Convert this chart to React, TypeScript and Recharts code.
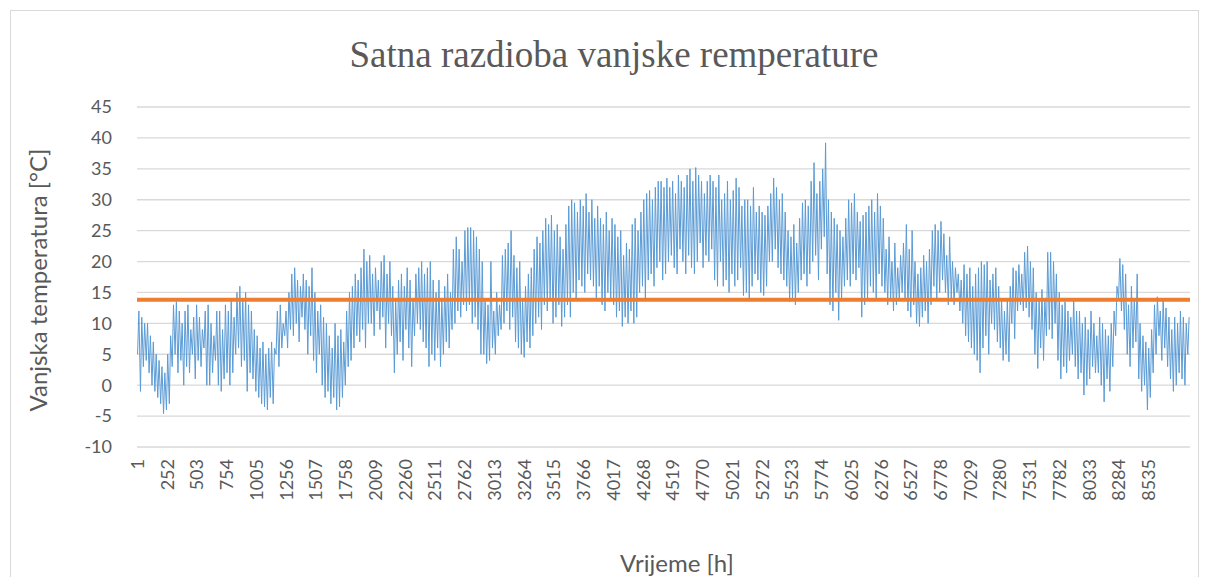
import React from "react";
import { LineChart, Line, XAxis, YAxis, CartesianGrid, ReferenceLine } from "recharts";

// daily peaks, one value per day (365 days)
const dailyHigh = [
  12, 11, 10, 10, 8, 7, 5, 4, 3, 2, 5, 8, 13, 13.5, 12, 10, 12, 13, 9, 11, 13, 11, 9, 12, 13, 10, 8, 12, 12, 9, 13, 12,
  14, 11, 15, 16, 14, 15, 13, 12, 9, 8, 6, 7, 5, 6, 7, 6, 12, 13, 10, 12, 15, 18, 19, 17, 16, 18, 17, 16, 19, 15, 12, 13, 11, 10,
  8, 6, 10, 8, 9, 7, 12, 15, 16, 18, 17, 19, 22, 20, 21, 18, 19, 17, 20, 21, 18, 20, 16, 14, 17, 18, 16, 19, 17, 14, 18, 19, 20, 18,
  19, 20, 17, 15, 17, 14, 16, 18, 15, 22, 24, 22, 20, 25, 25.5, 25.5, 25, 24, 22, 20, 14, 13, 20, 12, 15, 13, 21, 22, 23, 25, 21, 19, 20,
  14, 16, 18, 19, 22, 24, 23, 25, 27, 26, 27.5, 25, 26, 24, 22, 26, 29, 30, 29.5, 28, 30, 29, 31, 28, 30, 27, 29, 27, 26, 28, 25, 27, 26,
  24, 25, 21, 23, 22, 26, 27, 25, 28, 30, 31, 31.5, 30, 32, 33, 33, 32, 33.5, 32, 33, 31, 34, 33, 32, 34, 35, 33, 35.2, 34, 33, 31, 33, 34, 33,
  32, 34, 30, 31, 33, 30, 31.5, 33.5, 32, 29, 30, 30, 29, 32, 28, 29, 28, 27.5, 29, 31, 33.5, 32, 30, 31, 28, 25, 24, 26, 23, 27, 29.5, 30, 29,
  33, 36, 31, 33, 35, 39.2, 30, 28, 27, 26, 25, 24, 27, 30, 29.5, 31, 28, 26.5, 27.5, 28, 29, 30, 28, 31, 29, 27, 22, 24, 20, 23, 19, 21, 23,
  26, 22, 25, 20, 18, 19, 21, 20, 22, 25, 26, 25, 26.5, 24.5, 21, 24, 20, 19, 18, 17, 19.5, 18, 19, 16, 18, 19, 20, 19.5, 20, 17, 18, 19, 16, 14,
  12, 14, 16, 19, 18.5, 19.5, 18, 21.5, 22.5, 20, 19, 15, 14, 15.5, 14, 21.5, 21.5, 20, 18, 15, 13, 13.5, 12, 11, 14, 12, 12, 10, 11, 9, 12, 10, 8,
  11, 10, 9, 8, 10, 12, 16, 20.5, 19.5, 18, 13, 16, 14, 18, 10, 8, 7, 6, 9, 13, 14.3, 12, 14, 12.5, 11, 9, 11, 10, 12, 11, 10, 11,
];

// daily lows
const dailyLow = [
  5, -1, 3, 4, 2, 0, -1, -2, -3, -4.6, -4, -3, 3, 5, 2, 4, 0, 3, 2, 5, 1, 4, 3, 6, 0, 0, 2, 4, 0, -1, 1, 2,
  0, 2, 5, 6, 3, 4, -1, 2, 1, -1, -2, -3, -3.5, -4, -2, -3, 5, 3, 6, 8, 6, 9, 8, 10, 7, 11, 9, 5, 8, 4, 2, 5, 0, -2,
  -1, -3, -2, -4, -3.5, -2, 0, 3, 4, 6, 8, 7, 9, 6, 10, 10, 8, 12, 9, 11, 6, 10, 8, 2, 5, 7, 4, 9, 6, 3, 8, 10, 9, 7,
  6, 3, 5, 4, 6, 3, 5, 7, 6, 9, 10, 12, 11, 13, 12, 13, 10, 11, 9, 5, 5, 3.5, 4, 6, 5, 8, 9, 10, 12, 9, 11, 7, 6,
  5, 4.5, 7, 6, 8, 10, 11, 9, 13, 12, 14, 10, 11, 13, 9.5, 11, 13, 11, 15, 14, 17, 16, 15, 18, 17, 16, 14, 16, 13, 12, 15, 14, 13,
  11, 12, 9.5, 11, 10, 12, 10, 11, 15, 16, 14, 17, 18, 16, 19, 20, 17, 18, 20, 21, 19, 18, 22, 20, 18, 21, 19, 18, 20, 23, 19, 21, 20, 22,
  17, 16, 20, 16, 17, 15, 18, 16, 17, 19, 14.5, 15, 14, 16, 18, 17, 15, 14.5, 16, 20, 20, 22, 19, 18, 17, 16, 13.5, 14, 13, 15, 17, 18, 16,
  18, 20, 21, 17, 22, 24, 18, 13, 12, 15, 10.5, 14, 16, 17, 16, 18, 17, 19, 11, 13, 14, 16, 15, 14, 18, 16, 15, 13, 14, 12, 13, 14, 15,
  14, 12, 11, 13, 10, 9.5, 11, 12, 10, 13, 16, 14, 15, 17, 15, 13, 14, 13, 15, 12, 10, 8, 7, 6, 5, 4, 2, 6, 8, 5, 10, 9, 7, 6,
  4, 5, 3.8, 10, 7.5, 12, 13, 12, 12.5, 11, 9, 5, 2.7, 6, 4, 8, 9, 7.5, 10, 4, 1, 3, 2, 4, 5, 3, 1, 2, -1.6, 0, 1, 3, 2,
  2, 0, -2.7, 1, -1, 3, 8, 14, 12, 9, 5, 3, 6, 7, 1, -1, 0, -4, -2, 2, 5, 8, 4, 6, 3, 1, -1, 0, 2, 1, 0, 5,
];

const meanTemp = 13.8;
// number of hourly rows on the category axis (label spacing implies a bit more than 8760)
const rowCount = 8888;

const xTicks = [
  1, 252, 503, 754, 1005, 1256, 1507, 1758, 2009, 2260, 2511, 2762, 3013, 3264, 3515, 3766, 4017, 4268,
  4519, 4770, 5021, 5272, 5523, 5774, 6025, 6276, 6527, 6778, 7029, 7280, 7531, 7782, 8033, 8284, 8535,
];
const yTicks = [-10, -5, 0, 5, 10, 15, 20, 25, 30, 35, 40, 45];

const dayLen = rowCount / dailyLow.length;
const data = dailyLow.flatMap((low, d) => [
  { h: 1 + (d + 0.2) * dayLen, t: low },
  { h: 1 + (d + 0.65) * dayLen, t: dailyHigh[d] },
]);

const txt = "#595959";
const sans = "Lato, 'Open Sans', sans-serif";

const RotTick = (props: any) => {
  const { x, y, payload } = props;
  return (
    <text
      x={x}
      y={y}
      transform={`rotate(-90, ${x}, ${y})`}
      textAnchor="end"
      dominantBaseline="central"
      fill={txt}
      fontSize={18}
      fontFamily={sans}
    >
      {payload.value}
    </text>
  );
};

export default function App() {
  return (
    <div style={{ position: "absolute", left: 0, top: 0, width: 1208, height: 577, overflow: "hidden", background: "#fff" }}>
      <div style={{ position: "absolute", left: 10, top: 10, width: 1187, height: 620, border: "1px solid #D9D9D9" }} />
      <div style={{ position: "absolute", left: 0, top: 33, width: 1228, textAlign: "center", fontFamily: "'Liberation Serif', serif", fontSize: 37, color: txt }}>
        Satna razdioba vanjske remperature
      </div>
      <div style={{ position: "absolute", left: 37, top: 280, transform: "translate(-50%, -50%) rotate(-90deg)", whiteSpace: "nowrap", fontFamily: sans, fontSize: 24, color: txt }}>
        Vanjska temperatura [°C]
      </div>
      <div style={{ position: "absolute", left: 677, top: 562, transform: "translate(-50%, -50%)", whiteSpace: "nowrap", fontFamily: sans, fontSize: 24, color: txt }}>
        Vrijeme [h]
      </div>
      <div style={{ position: "absolute", left: 0, top: 0 }}>
        <LineChart width={1208} height={577} data={data} margin={{ top: 107, right: 18, left: 0, bottom: 60 }}>
          <CartesianGrid vertical={false} stroke="#D9D9D9" strokeWidth={1.3} />
          <XAxis
            dataKey="h"
            type="number"
            domain={[1, rowCount]}
            ticks={xTicks}
            interval={0}
            tick={<RotTick />}
            tickLine={false}
            axisLine={false}
            tickSize={0}
            tickMargin={12}
            height={70}
          />
          <YAxis
            type="number"
            domain={[-10, 45]}
            ticks={yTicks}
            interval={0}
            width={137}
            tickLine={false}
            axisLine={false}
            tickSize={0}
            tickMargin={25}
            tick={{ fill: txt, fontSize: 18, fontFamily: sans }}
          />
          <Line type="linear" dataKey="t" stroke="#5B9BD5" strokeWidth={1} dot={false} isAnimationActive={false} />
          <ReferenceLine y={meanTemp} stroke="#ED7D31" strokeWidth={4} />
        </LineChart>
      </div>
    </div>
  );
}
